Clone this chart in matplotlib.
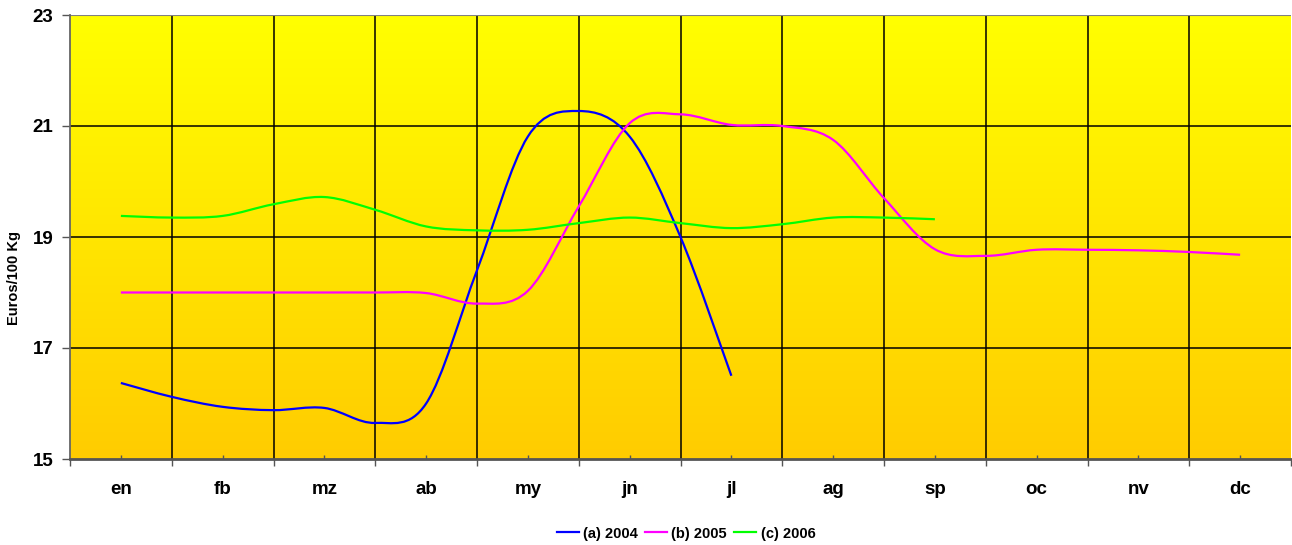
import numpy as np
import matplotlib
matplotlib.use('Agg')
import matplotlib.pyplot as plt
from matplotlib.path import Path
from matplotlib.patches import PathPatch
from matplotlib.lines import Line2D
from matplotlib.colors import LinearSegmentedColormap

plt.rcParams['font.family'] = ['Liberation Sans', 'DejaVu Sans']
plt.rcParams['font.weight'] = 'bold'

months = ['en', 'fb', 'mz', 'ab', 'my', 'jn', 'jl', 'ag', 'sp', 'oc', 'nv', 'dc']

# readings every half month (0.5 = centre of "en")
x2004 = [0.5, 1.0, 1.5, 2.0, 2.5, 3.0, 3.5, 4.0, 4.5, 5.0, 5.5, 6.0, 6.5]
v2004 = [16.37, 16.12, 15.94, 15.88, 15.92, 15.65, 16.0, 18.4, 20.81, 21.27, 20.81, 19.0, 16.5]

x2005 = [0.5, 1.0, 1.5, 2.0, 2.5, 3.0, 3.5, 4.0, 4.5, 5.0, 5.5, 6.0,
         6.5, 7.0, 7.5, 8.0, 8.5, 9.0, 9.5, 10.0, 10.5, 11.0, 11.5]
v2005 = [18.0, 18.0, 18.0, 18.0, 18.0, 18.0, 17.99, 17.8, 18.03, 19.55, 21.05, 21.21,
         21.02, 21.0, 20.75, 19.7, 18.78, 18.66, 18.77, 18.77, 18.76, 18.73, 18.68]

x2006 = [0.5, 1.0, 1.5, 2.0, 2.5, 3.0, 3.5, 4.0, 4.5, 5.0, 5.5, 6.0, 6.5, 7.0, 7.5, 8.0, 8.5]
v2006 = [19.38, 19.35, 19.38, 19.59, 19.72, 19.49, 19.19, 19.12, 19.13, 19.25, 19.35,
         19.25, 19.16, 19.23, 19.35, 19.35, 19.32]

series = [('(a) 2004', x2004, v2004, '#0000FF'),
          ('(b) 2005', x2005, v2005, '#FF00FF'),
          ('(c) 2006', x2006, v2006, '#00FF00')]


def smooth_path(xs, ys):
    # catmull-rom through the points, drawn as bezier curves (like excel smoothing)
    pts = list(zip(xs, ys))
    verts = [pts[0]]
    codes = [Path.MOVETO]
    for i in range(len(pts) - 1):
        p0 = pts[i - 1] if i > 0 else pts[i]
        p1 = pts[i]
        p2 = pts[i + 1]
        p3 = pts[i + 2] if i + 2 < len(pts) else pts[i + 1]
        c1 = (p1[0] + (p2[0] - p0[0]) / 6, p1[1] + (p2[1] - p0[1]) / 6)
        c2 = (p2[0] - (p3[0] - p1[0]) / 6, p2[1] - (p3[1] - p1[1]) / 6)
        verts += [c1, c2, p2]
        codes += [Path.CURVE4] * 3
    return Path(verts, codes)


fig = plt.figure(figsize=(12.92, 5.45), dpi=100)
ax = fig.add_axes([70 / 1292, 86 / 545, 1221 / 1292, 444 / 545])

cmap = LinearSegmentedColormap.from_list('bg', ['#FFFF00', '#FFCC00'])
ax.imshow(np.linspace(0, 1, 256).reshape(-1, 1), cmap=cmap, extent=[0, 12, 15, 23],
          aspect='auto', origin='upper', zorder=0)

ax.set_xlim(0, 12)
ax.set_ylim(15, 23)

for xb in range(1, 12):
    ax.axvline(xb, color='black', lw=1.1, zorder=1)
for yb in [17, 19, 21]:
    ax.axhline(yb, color='black', lw=1.1, zorder=1)
ax.axhline(23, color='#808080', lw=1.5, zorder=1)

handles = []
for label, xs, ys, col in series:
    ax.add_patch(PathPatch(smooth_path(xs, ys), fill=False, edgecolor=col, lw=1.6, zorder=3))
    handles.append(Line2D([], [], color=col, lw=1.6, label=label))

ax.set_yticks([15, 17, 19, 21, 23])
ax.set_yticklabels(['15', '17', '19', '21', '23'], fontsize=13.5, fontweight='bold')
ax.tick_params(axis='y', length=6, width=1, color='#555555', pad=6)

ax.set_xticks(range(0, 13))
ax.set_xticklabels([])
ax.set_xticks(np.arange(0.5, 12, 1), minor=True)
ax.set_xticklabels(months, minor=True, fontsize=13.5, fontweight='bold')
ax.tick_params(axis='x', which='major', length=5, width=1, color='#555555')
ax.tick_params(axis='x', which='minor', direction='in', length=3, width=1,
               color='#555555', pad=16)

ax.spines['right'].set_visible(False)
ax.spines['top'].set_visible(False)
ax.spines['left'].set_color('#666666')
ax.spines['left'].set_linewidth(1.3)
ax.spines['bottom'].set_color('#555555')
ax.spines['bottom'].set_linewidth(2)

fig.text(14 / 1292, 1 - 278 / 545, 'Euros/100 Kg', rotation=90, ha='center', va='center',
         fontsize=10.5, fontweight='bold')

fig.legend(handles=handles, loc='center', bbox_to_anchor=(0.531, 0.021), ncol=3,
           frameon=False, prop={'size': 10.5, 'weight': 'bold'}, handlelength=1.5,
           handletextpad=0.3, columnspacing=0.5)

fig.savefig('out.png', dpi=100)
